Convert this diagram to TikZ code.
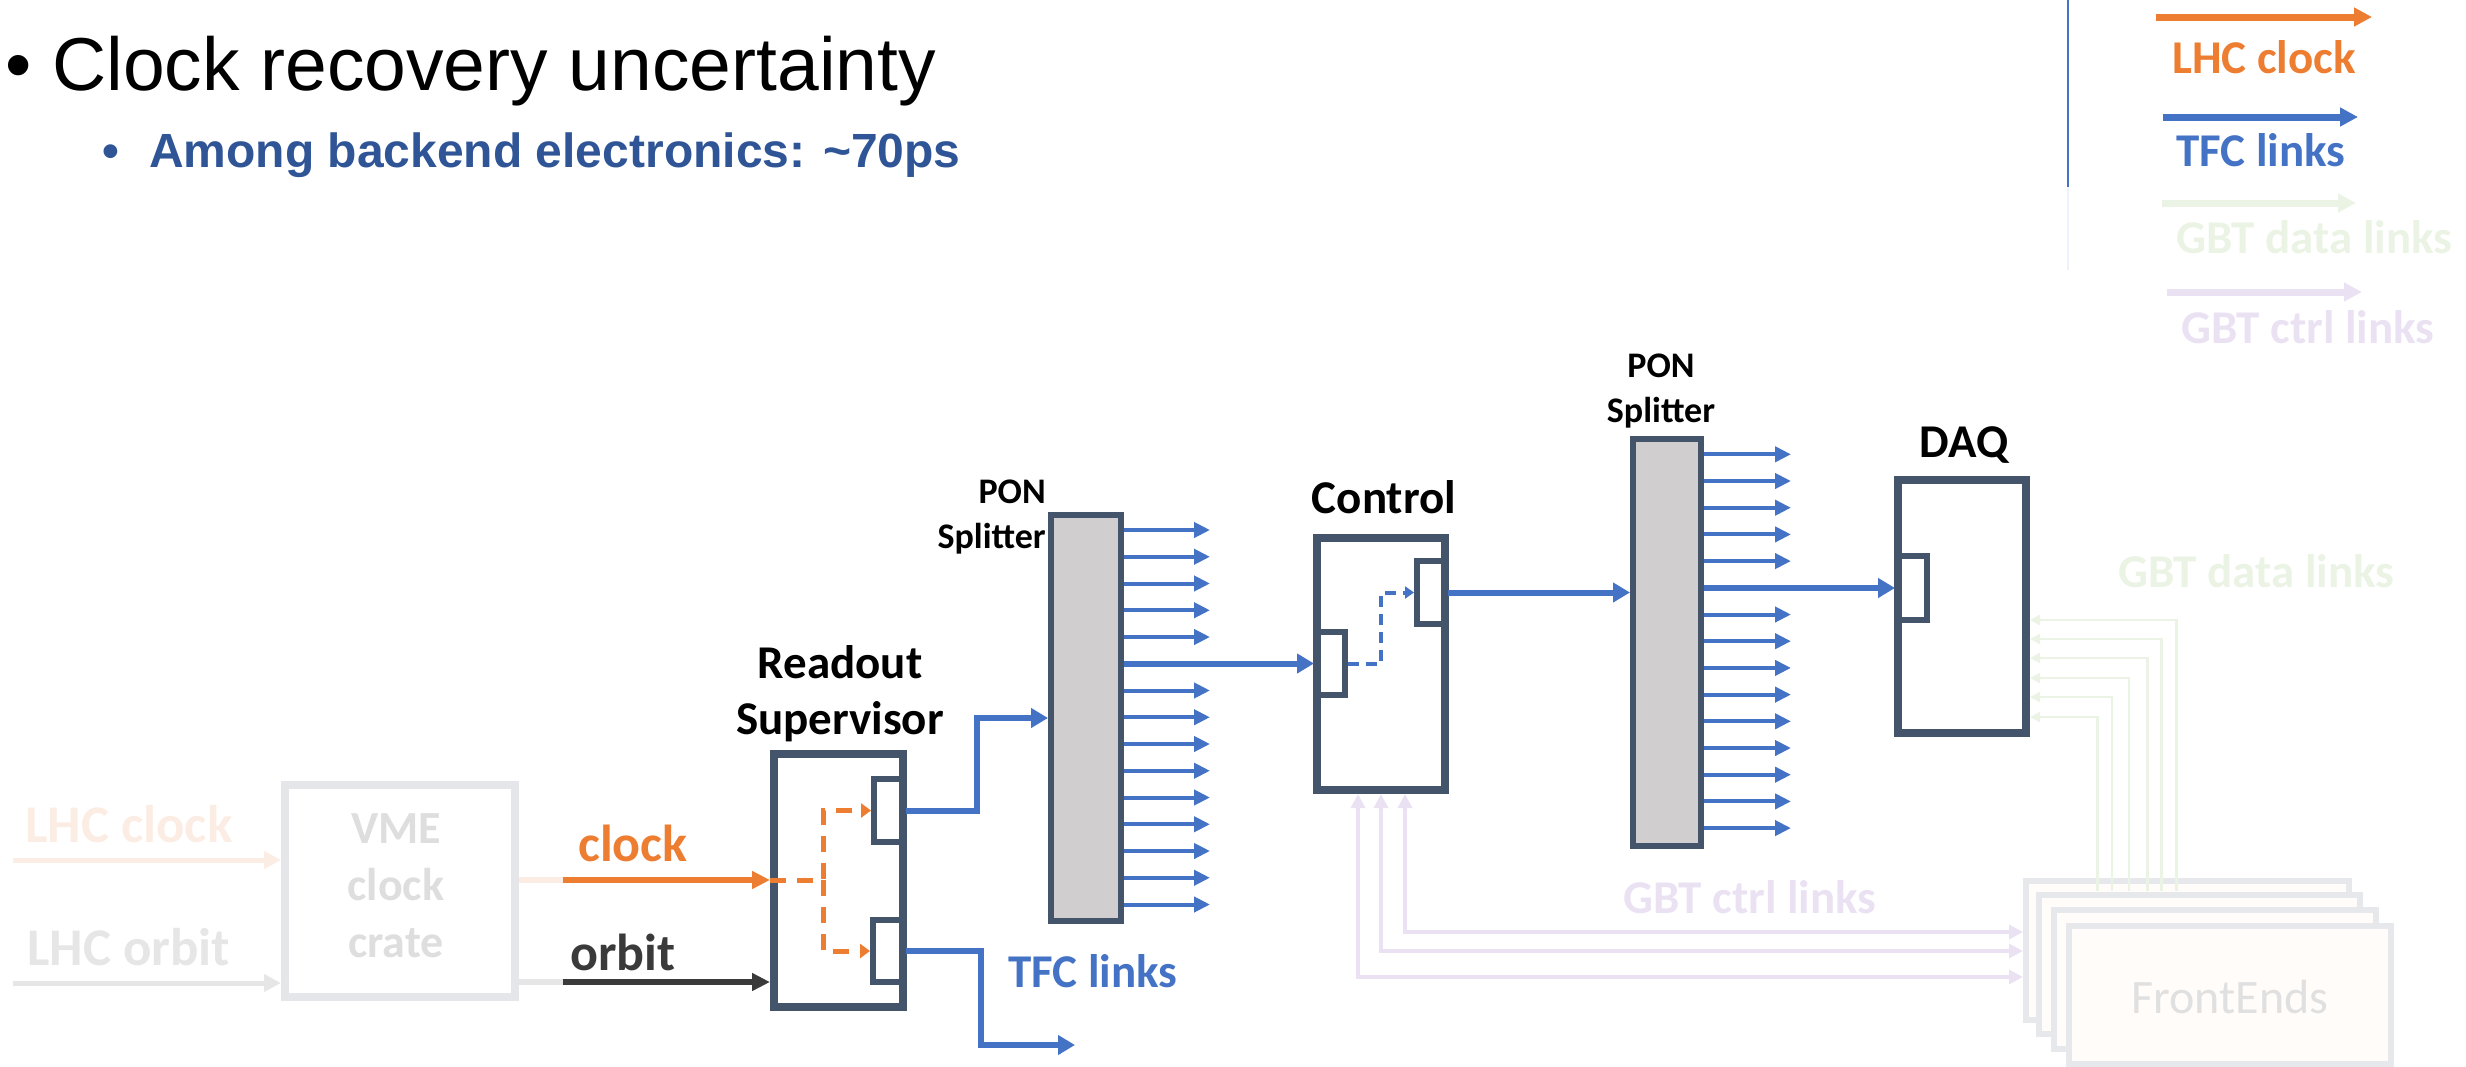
\documentclass[tikz,border=0pt]{standalone}
\usepackage{fontspec}
\setmainfont{Carlito}
\newfontfamily\arialfont{Liberation Sans}
\usetikzlibrary{arrows.meta,calc}

\definecolor{tfcblue}{HTML}{4472C4}
\definecolor{clkorange}{HTML}{ED7D31}
\definecolor{slate}{HTML}{44546A}
\definecolor{ponfill}{HTML}{D0CECE}
\definecolor{orbdark}{HTML}{3A3A3A}
\definecolor{subblue}{HTML}{2F5597}
\definecolor{fadeorange}{HTML}{FCEDE4}
\definecolor{fadegrey}{HTML}{E6E6E6}
\definecolor{vmeborder}{HTML}{E4E6EA}
\definecolor{vmetext}{HTML}{DEDEDE}
\definecolor{fadegreen}{HTML}{EAF3E4}
\definecolor{fadepurple}{HTML}{EAE2F3}
\definecolor{feborder}{HTML}{E7E8EB}
\definecolor{fefill}{HTML}{FFFCF9}
\definecolor{fetext}{HTML}{E0E0E0}
\definecolor{fadeblue}{HTML}{EEF2FA}

\newcommand\setfs[1]{\fontsize{#1}{#1}\selectfont}

\tikzset{
  sz/.style 2 args={minimum width=#1*0.75pt, minimum height=#2*0.75pt},
  box/.style={rectangle, draw=slate, line width=6pt, fill=white, inner sep=0pt},
  port/.style={rectangle, draw=slate, line width=4.5pt, inner sep=0pt},
  splitter/.style={rectangle, draw=slate, line width=4.5pt, fill=ponfill, inner sep=0pt},
  card/.style={rectangle, draw=feborder, line width=4.5pt, fill=fefill, inner sep=0pt},
  vmebox/.style={rectangle, draw=vmeborder, line width=6pt, fill=white, inner sep=0pt},
  lbl/.style={inner sep=0pt, font=\bfseries\setfs{35.25}},
  tfc/.style={draw=tfcblue, line width=4.5pt,
    -{Triangle[length=12.75pt, width=14.25pt]}},
  tfcsmall/.style={draw=tfcblue, line width=3pt,
    -{Triangle[length=12pt, width=11.25pt]}},
  clkarrow/.style={draw=clkorange, line width=4.5pt,
    -{Triangle[length=13.5pt, width=12.75pt]}},
  orbarrow/.style={draw=orbdark, line width=4.5pt,
    -{Triangle[length=13.5pt, width=12.75pt]}},
  odash/.style={draw=clkorange, line width=3.75pt, dash pattern=on 12pt off 8.25pt,
    -{Triangle[length=7.5pt, width=10.5pt]}},
  bdash/.style={draw=tfcblue, line width=3pt, dash pattern=on 8.25pt off 5.25pt,
    -{Triangle[length=6.75pt, width=9pt]}},
  lhcin/.style={line width=3.75pt, -{Triangle[length=12.75pt, width=12.75pt]}},
  gbtc/.style={draw=fadepurple, line width=3pt,
    {Triangle[length=10.5pt, width=10.5pt]}-{Triangle[length=10.5pt, width=10.5pt]}},
  gbtd/.style={draw=fadegreen, line width=1.9pt,
    -{Triangle[length=7.5pt, width=7.5pt]}},
  legarrow/.style={line width=5.25pt, -{Triangle[length=13.5pt, width=13.5pt]}},
}

\begin{document}
\begin{tikzpicture}[x=0.75pt, y=-0.75pt]
\useasboundingbox (0,0) rectangle (2466,1067);

% ---- heading ----
\node[anchor=base west, inner sep=0pt, font=\arialfont\setfs{56.25}] (bul1) at (5,90) {•};
\node[anchor=base west, inner sep=0pt, font=\arialfont\setfs{56.25}] (title) at (52,90) {Clock recovery uncertainty};
\node[anchor=base west, inner sep=0pt, text=subblue, font=\arialfont\bfseries\setfs{36}] (bul2) at (102,167) {•};
\node[anchor=base west, inner sep=0pt, text=subblue, font=\arialfont\bfseries\setfs{36}] (sub) at (149,167) {Among backend electronics: \textasciitilde70ps};

% ---- legend ----
\draw[draw=tfcblue, line width=1.5pt] (2068,0) coordinate (legtop) -- (2068,187) coordinate (legmid);
\draw[draw=fadeblue, line width=1.5pt] (legmid) -- (2068,270) coordinate (legbot);
\coordinate (lg1a) at (2156,17);  \coordinate (lg1b) at (2372,17);
\coordinate (lg2a) at (2163,117); \coordinate (lg2b) at (2358,117);
\coordinate (lg3a) at (2162,203); \coordinate (lg3b) at (2356,203);
\coordinate (lg4a) at (2167,292); \coordinate (lg4b) at (2362,292);
\draw[legarrow, draw=clkorange] (lg1a) -- (lg1b);
\draw[legarrow, draw=tfcblue] (lg2a) -- (lg2b);
\draw[legarrow, draw=fadegreen] (lg3a) -- (lg3b);
\draw[legarrow, draw=fadepurple] (lg4a) -- (lg4b);
\node[lbl, anchor=base west, text=clkorange] (lgt1) at (2172,73) {LHC clock};
\node[lbl, anchor=base west, text=tfcblue] (lgt2) at (2176,166) {TFC links};
\node[lbl, anchor=base west, text=fadegreen] (lgt3) at (2176,253) {GBT data links};
\node[lbl, anchor=base west, text=fadepurple] (lgt4) at (2181,343) {GBT ctrl links};

% ---- VME clock crate and its inputs ----
\node[vmebox, sz={230}{212}] (vme) at (400,891) {};
\node[lbl, anchor=base, text=vmetext, font=\bfseries\setfs{34.5}] (vme1) at (396,843) {VME};
\node[lbl, anchor=base, text=vmetext, font=\bfseries\setfs{34.5}] (vme2) at (396,900) {clock};
\node[lbl, anchor=base, text=vmetext, font=\bfseries\setfs{34.5}] (vme3) at (396,957) {crate};

\coordinate (lhcc) at (13,860);
\coordinate (lhco) at (13,983);
\draw[lhcin, draw=fadeorange] (lhcc) -- (lhcc -| vme.west);
\draw[lhcin, draw=fadegrey] (lhco) -- (lhco -| vme.west);
\node[lbl, anchor=base west, text=fadeorange, font=\bfseries\setfs{39.75}] (lhcct) at (25,842) {LHC clock};
\node[lbl, anchor=base west, text=fadegrey, font=\bfseries\setfs{39.75}] (lhcot) at (27,965) {LHC orbit};

% ---- Readout Supervisor ----
\node[box, sz={129}{253}] (rs) at (838.5,880.5) {};
\node[port, sz={29}{63}] (rsA) at (888.5,810.5) {};
\node[port, sz={30}{62}] (rsB) at (888,951) {};
\node[lbl, anchor=base] (rsl1) at (840,678) {Readout};
\node[lbl, anchor=base] (rsl2) at (840,734) {Supervisor};

\coordinate (clks) at (563,880);
\coordinate (orbs) at (563,982);
\draw[draw=fadeorange, line width=4.5pt] (vme.east |- clks) -- (clks);
\draw[draw=fadegrey, line width=4.5pt] (vme.east |- orbs) -- (orbs);
\draw[clkarrow] (clks) -- (clks -| rs.west);
\draw[orbarrow] (orbs) -- (orbs -| rs.west);
\node[lbl, anchor=base west, text=clkorange, font=\bfseries\setfs{39}] (clkt) at (578,861) {clock};
\node[lbl, anchor=base west, text=orbdark, font=\bfseries\setfs{39}] (orbt) at (570,970) {orbit};

\coordinate (split) at (823,880);
\draw[odash] (rs.west |- split) -- (split) |- (rsA.west);
\draw[odash] (split) |- (rsB.west);

% ---- first PON splitter ----
\node[splitter, sz={70}{406}] (pon1) at (1086,718) {};
\node[lbl, anchor=base east, font=\bfseries\setfs{27}] (pon1a) at (1046,503) {PON};
\node[lbl, anchor=base east, font=\bfseries\setfs{27}] (pon1b) at (1046,548) {Splitter};
\draw[tfc] (rsA.east) -- ($(rsA.east)+(71,0)$) |- (pon1.west);
\coordinate (tfcend) at (1075,1045);
\draw[tfc] (rsB.east) -- ($(rsB.east)+(75,0)$) |- (tfcend);
\node[lbl, anchor=base west, text=tfcblue] (tfct) at (1008,987) {TFC links};
\foreach \i in {0,...,14}{
  \ifnum\i=5\relax\else
    \draw[tfcsmall] ($(pon1.north east)+(0,18+26.75*\i)$) -- ++(86,0);
  \fi
}

% ---- Control ----
\node[box, sz={128}{252}] (ctrl) at (1381,664) {};
\node[port, sz={28}{63}] (ctrlIn) at (1331,663.5) {};
\node[port, sz={28}{63}] (ctrlOut) at (1431,592.5) {};
\node[lbl, anchor=base] (ctrlt) at (1384,513) {Control};
\draw[tfc] (pon1.east |- ctrlIn.west) -- (ctrlIn.west);
\draw[bdash] (ctrlIn.east) -- ($(ctrlIn.east)+(33,0)$) |- (ctrlOut.west);

% ---- second PON splitter ----
\node[splitter, sz={68}{407}] (pon2) at (1667,642.5) {};
\node[lbl, anchor=base, font=\bfseries\setfs{27}] (pon2a) at (1661,377) {PON};
\node[lbl, anchor=base, font=\bfseries\setfs{27}] (pon2b) at (1661,422) {Splitter};
\draw[tfc] (ctrlOut.east) -- (ctrlOut.east -| pon2.west);
\foreach \i in {0,...,14}{
  \ifnum\i=5\relax\else
    \draw[tfcsmall] ($(pon2.north east)+(0,18.3+26.7*\i)$) -- ++(87,0);
  \fi
}

% ---- DAQ ----
\node[box, sz={128}{253}] (daq) at (1962,606.5) {};
\node[port, sz={29}{64}] (daqP) at (1912.5,588) {};
\node[lbl, anchor=base] (daqt) at (1964,457) {DAQ};
\draw[tfc] (pon2.east |- daqP.west) -- (daqP.west);

% ---- FrontEnds and GBT links ----
\node[card, sz={323}{139}] (fe1) at (2187.5,950.5) {};
\foreach \dx/\dy in {153.25/13.5, 138.25/32.5, 124.25/51.5, 105.75/71.5, 88.75/90.5, 74.25/110.5}{
  \draw[gbtd] ($(fe1.north west)+(\dx,13)$) |- ($(daq.east)+(0,\dy)$);
}
\node[card, sz={321}{139}] (fe2) at (2199.5,964.5) {};
\node[card, sz={322}{139}] (fe3) at (2215,979.5) {};
\node[card, sz={322}{138}] (fe4) at (2230,995) {};
\node[inner sep=0pt, anchor=base, text=fetext, font=\setfs{36}] (fet) at (2230,1013) {FrontEnds};

\draw[gbtc] ($(ctrl.south)+(24,0)$) |- ($(fe1.west)+(0,-18.5)$);
\draw[gbtc] (ctrl.south) |- ($(fe1.west)+(0,0.5)$);
\draw[gbtc] ($(ctrl.south)+(-23,0)$) |- ($(fe1.west)+(0,26.5)$);
\node[lbl, anchor=base west, text=fadepurple] (gbtct) at (1623,913) {GBT ctrl links};
\node[lbl, anchor=base west, text=fadegreen] (gbtdt) at (2118,587) {GBT data links};

\end{tikzpicture}
\end{document}
